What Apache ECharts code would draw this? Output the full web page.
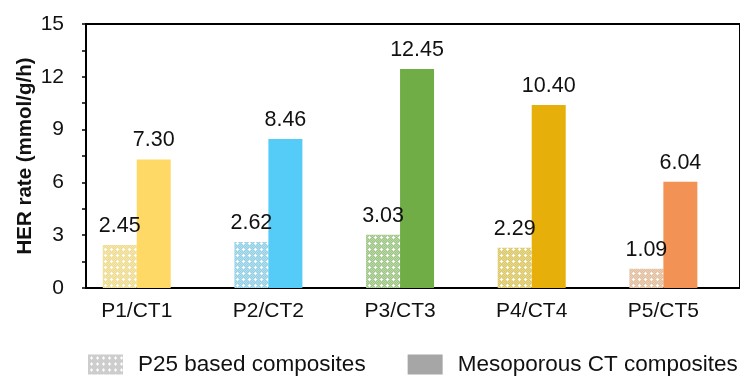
<!DOCTYPE html>
<html>
<head>
<meta charset="utf-8">
<script src="https://cdn.jsdelivr.net/npm/echarts@6/dist/echarts.min.js"></script>
<style>
  html, body { margin: 0; padding: 0; background: #fff; }
  #chart { width: 740px; height: 378px; }
</style>
</head>
<body>
<div id="chart"></div>
<script>
// Hydrogen evolution rates of the paired composites
const categories = ['P1/CT1', 'P2/CT2', 'P3/CT3', 'P4/CT4', 'P5/CT5'];
const seriesNames = ['P25 based composites', 'Mesoporous CT composites'];
const p25Values = [2.45, 2.62, 3.03, 2.29, 1.09];
const mesoValues = [7.30, 8.46, 12.45, 10.40, 6.04];
const yMin = 0, yMax = 15, yStep = 3;

// Colours: solid fill for CT bars, tint + dotted pattern for P25 bars
const solidColors = ['#FFD966', '#55CBF7', '#70AD47', '#E6AF0A', '#F29355'];
const tintColors = ['#EEDB8E', '#93D0E6', '#9DC684', '#DCC865', '#E2BE9C'];

const FONT = "'Liberation Sans', Arial, sans-serif";
const TEXT = '#111';

function makePattern(tint) {
  const c = document.createElement('canvas');
  c.width = 6; c.height = 6;
  const g = c.getContext('2d');
  g.fillStyle = tint;
  g.fillRect(0, 0, 6, 6);
  g.fillStyle = 'rgba(255,255,255,0.3)';
  for (let y = 0; y < 6; y++) {
    for (let x = 0; x < 6; x++) {
      if ((x + y) % 2 === 0) g.fillRect(x, y, 1, 1);
    }
  }
  g.fillStyle = '#ffffff';
  g.fillRect(3, 2, 1, 3);
  g.fillRect(2, 3, 3, 1);
  return { image: c, repeat: 'repeat' };
}

const p25Data = p25Values.map((v, i) => ({ value: v, itemStyle: { color: makePattern(tintColors[i]) } }));
const mesoData = mesoValues.map((v, i) => ({ value: v, itemStyle: { color: solidColors[i] } }));

const valueLabel = {
  show: true,
  position: 'top',
  distance: 8,
  fontFamily: FONT,
  fontSize: 21.5,
  color: TEXT,
  formatter: p => p.value.toFixed(2)
};

const chart = echarts.init(document.getElementById('chart'));
chart.setOption({
  animation: false,
  backgroundColor: '#fff',
  grid: [
    { left: 70.9, right: 10.8, top: 24, bottom: 90 },
    { left: 86, right: -3, top: 24, bottom: 90, show: true, borderColor: '#000', borderWidth: 2, backgroundColor: 'transparent' }
  ],
  legend: {
    data: seriesNames,
    left: 88,
    top: 353,
    padding: 0,
    itemWidth: 35,
    itemHeight: 20,
    itemGap: 42,
    icon: 'rect',
    textStyle: { fontFamily: FONT, fontSize: 22.5, color: TEXT, padding: [0, 0, 0, 10] }
  },
  xAxis: [
    {
      type: 'category',
      gridIndex: 0,
      data: categories,
      axisLine: { show: false },
      axisTick: { show: false },
      axisLabel: { fontFamily: FONT, fontSize: 21, color: TEXT, margin: 13 }
    },
    { type: 'value', gridIndex: 1, show: false }
  ],
  yAxis: [
    {
      type: 'value',
      gridIndex: 0,
      min: yMin,
      max: yMax,
      interval: yStep,
      offset: -15.1,
      name: 'HER rate (mmol/g/h)',
      nameLocation: 'middle',
      nameGap: 50,
      nameMoveOverlap: false,
      nameTextStyle: { fontFamily: FONT, fontSize: 20.5, fontWeight: 'bold', color: TEXT },
      axisLine: { show: true, lineStyle: { color: '#000', width: 1.5 } },
      axisTick: { show: true, length: 4, lineStyle: { color: '#000', width: 1.5 } },
      minorTick: { show: true, splitNumber: 2, length: 4, lineStyle: { color: '#000', width: 1.5 } },
      splitLine: { show: false },
      axisLabel: { fontFamily: FONT, fontSize: 21, color: TEXT, margin: 22 }
    },
    { type: 'value', gridIndex: 1, show: false }
  ],
  series: [
    {
      name: seriesNames[0],
      type: 'bar',
      xAxisIndex: 0,
      yAxisIndex: 0,
      barWidth: 34,
      barGap: '0%',
      itemStyle: { color: makePattern('#C4C4C4') },
      label: valueLabel,
      data: p25Data
    },
    {
      name: seriesNames[1],
      type: 'bar',
      xAxisIndex: 0,
      yAxisIndex: 0,
      barWidth: 34,
      barGap: '0%',
      itemStyle: { color: '#A6A6A6' },
      label: valueLabel,
      data: mesoData
    }
  ]
});
</script>
</body>
</html>
